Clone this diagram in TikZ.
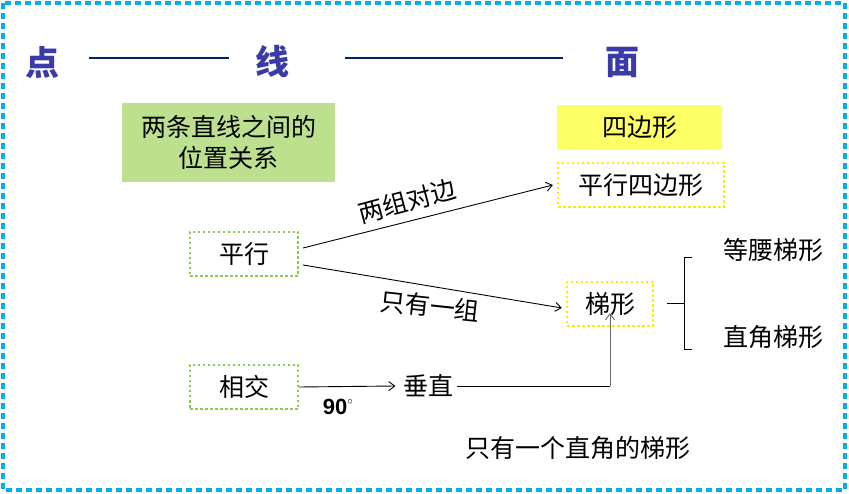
\documentclass[tikz,border=0pt]{standalone}
\usepackage{fontspec}
\newfontfamily\cjk{Noto Sans CJK SC}
\setsansfont{Liberation Sans}
\usetikzlibrary{arrows.meta,decorations.pathreplacing}
\definecolor{titleblue}{HTML}{3A3AA8}
\definecolor{cyanb}{HTML}{00AEEF}
\definecolor{gfill}{HTML}{BDE08F}
\definecolor{gdot}{HTML}{8CCB4A}
\definecolor{yfill}{HTML}{FFFF66}
\definecolor{ydot}{HTML}{F5F000}
\tikzset{
 ttl/.style={font=\cjk\fontsize{34}{34}\bfseries\selectfont, text=titleblue},
 txt/.style={font=\cjk\fontsize{25}{31}\selectfont},
 gbox/.style={draw=gdot, line width=2.2pt, dash pattern=on 2.5pt off 2.5pt, minimum width=108pt, minimum height=44pt, txt},
 ybox/.style={draw=ydot, line width=2.2pt, dash pattern=on 2.5pt off 2.5pt, txt},
 arr/.style={draw=black, line width=0.9pt, -{Straight Barb[length=6pt,width=9pt]}},
}
\begin{document}
\begin{tikzpicture}[x=1pt,y=-1pt]
\useasboundingbox (0,0) rectangle (849,494);
\draw[cyanb, line width=4.5pt, dash pattern=on 6pt off 4pt] (3,3) rectangle (845,490);
\node[ttl] (dian) at (42,62) {点};
\node[ttl] (xian) at (272,62) {线};
\node[ttl] (mian) at (622,62) {面};
\coordinate (l1a) at (89,58); \coordinate (l1b) at (229,58);
\coordinate (l2a) at (345,58); \coordinate (l2b) at (563,58);
\draw[color={rgb,255:red,0;green,32;blue,96}, line width=1.6pt] (l1a) -- (l1b) (l2a) -- (l2b);
\node[fill=gfill, minimum width=213pt, minimum height=79pt, align=center, txt] (rel) at (228.5,142.5) {两条直线之间的\\位置关系};
\node[fill=yfill, minimum width=165pt, minimum height=45pt, txt] (sbx) at (639.5,127.5) {四边形};
\node[ybox, minimum width=166pt, minimum height=44pt, inner sep=1pt] (pxsbx) at (641,185) {平行四边形};
\node[gbox] (px) at (244,254) {平行};
\node[ybox, minimum width=86pt, minimum height=44pt, inner sep=1pt] (tx) at (610,304) {梯形};
\node[gbox] (xj) at (244,387) {相交};
\node[txt] (dytx) at (773,250) {等腰梯形};
\node[txt] (zjtx) at (773,337) {直角梯形};
\node[txt] (cz) at (428,386) {垂直};
\node[txt] (note) at (578,448) {只有一个直角的梯形};
\node[font=\sffamily\bfseries\fontsize{22}{22}\selectfont] (deg) at (338,407) {90\raisebox{4pt}{\fontsize{16}{16}\selectfont$^\circ$}};
\coordinate (p1) at (303,248); \coordinate (p2) at (303,265);
\draw[arr] (p1) -- ([xshift=-4pt]pxsbx.west);
\node[txt, rotate=15, inner sep=0pt] (ldz) at (407,201) {两组对边};
\draw[arr] (p2) -- ([xshift=-4pt,yshift=-4pt]tx.west);
\node[txt, rotate=-6] (yz) at (430,306) {只有一组};
\draw[arr] (xj.east) -- ([xshift=-4pt]cz.west);
\coordinate (corner) at (610,386);
\draw[line width=0.9pt] (cz.east) -- (corner);
\draw[arr, draw=gray!80!black] (corner) -- ([yshift=14pt]tx.south);
\draw[line width=1pt] (692,258) -- (684,258) -- (684,350) -- (692,350) (684,304) -- (667,304);
\end{tikzpicture}
\end{document}
